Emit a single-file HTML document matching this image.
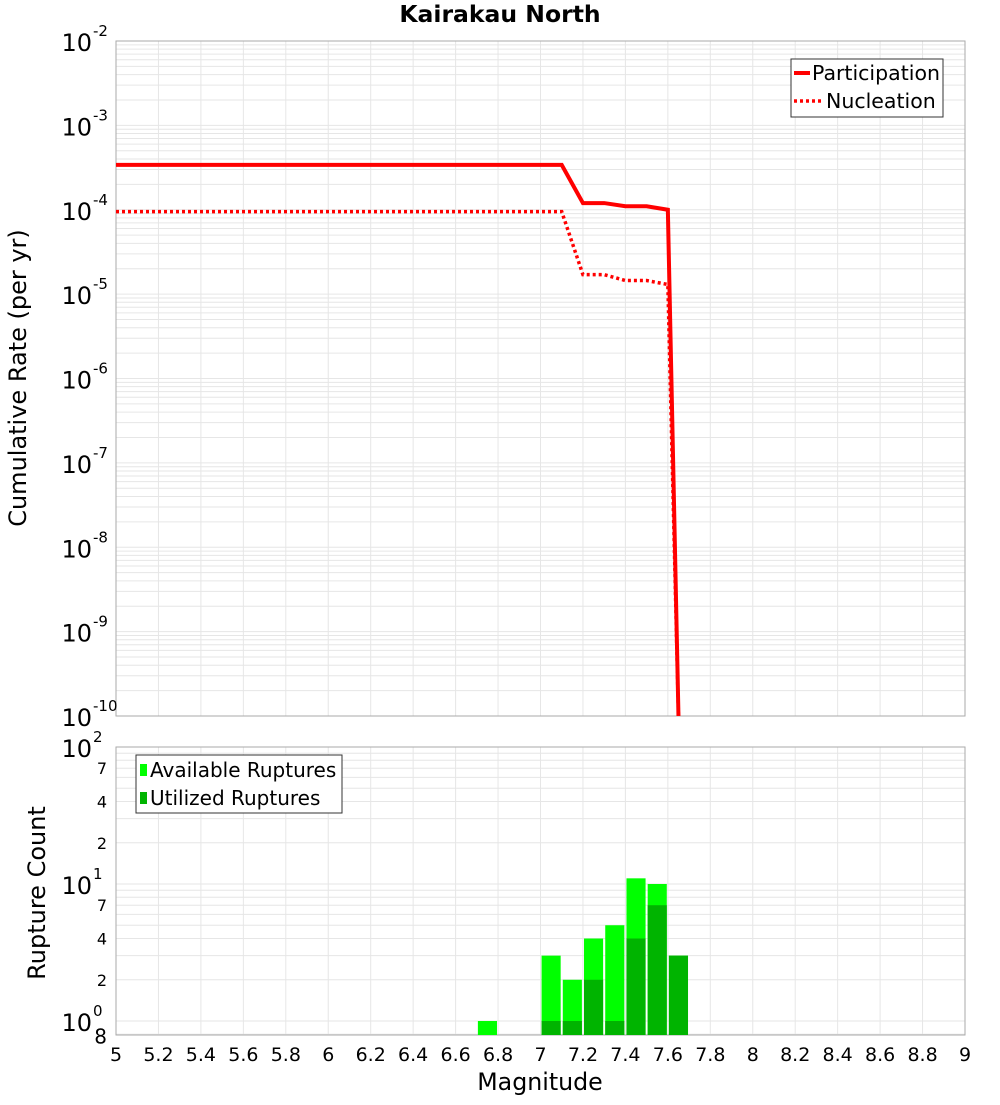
<!DOCTYPE html>
<html><head><meta charset="utf-8"><style>
body{margin:0;background:#fff;font-family:"Liberation Sans","DejaVu Sans",sans-serif}
svg text{font-family:"DejaVu Sans","Liberation Sans",sans-serif}
</style></head><body>
<svg id="c" width="1000" height="1100" xmlns="http://www.w3.org/2000/svg"></svg>
<script>
const magX=[5,7.1,7.2,7.3,7.4,7.5,7.6,7.65];
const partY=[3.4e-4,3.4e-4,1.2e-4,1.2e-4,1.1e-4,1.1e-4,1.0e-4,1e-10];
const nuclX=[5,7.1,7.2,7.3,7.4,7.5,7.6,7.65];
const nuclY=[9.5e-5,9.5e-5,1.7e-5,1.7e-5,1.45e-5,1.45e-5,1.3e-5,1e-10];
const binMags=[6.75,7.05,7.15,7.25,7.35,7.45,7.55,7.65];
const availCounts=[1,3,2,4,5,11,10,3];
const usedCounts=[0,1,1,2,1,4,7,3];
const xTicks=[5,5.2,5.4,5.6,5.8,6,6.2,6.4,6.6,6.8,7,7.2,7.4,7.6,7.8,8,8.2,8.4,8.6,8.8,9];
const topDecades=[-2,-3,-4,-5,-6,-7,-8,-9,-10];
const botTicks=[[100,'10','2'],[70,'7'],[40,'4'],[20,'2'],[10,'10','1'],[7,'7'],[4,'4'],[2,'2'],[1,'10','0'],[0.8,'8']];

const NS='http://www.w3.org/2000/svg',svg=document.getElementById('c');
function el(t,a,p){const e=document.createElementNS(NS,t);for(const k in a)e.setAttribute(k,a[k]);(p||svg).appendChild(e);return e;}
const L=116,R=965,T1=41,B1=716,T2=747,B2=1035;
const X=m=>L+(m-5)/4*(R-L);
const Y1=v=>T1+(-2-Math.log10(v))/8*(B1-T1);
const Y2=v=>T2+(2-Math.log10(v))*137;

let t=el('text',{x:500,y:22,'text-anchor':'middle','font-size':23.5,'font-weight':'bold'});t.textContent='Kairakau North';


const g=el('g',{stroke:'#e6e6e6','stroke-width':1});

for(const m of xTicks){el('line',{x1:X(m),x2:X(m),y1:T1,y2:B1},g);el('line',{x1:X(m),x2:X(m),y1:T2,y2:B2},g);}
for(let d=-10;d<-2;d++)for(let k=1;k<10;k++){const y=Y1(k*Math.pow(10,d));el('line',{x1:L,x2:R,y1:y,y2:y},g);}
for(const d of [0,1])for(let k=1;k<10;k++){const y=Y2(k*Math.pow(10,d));if(y<=B2)el('line',{x1:L,x2:R,y1:y,y2:y},g);}
el('line',{x1:L,x2:R,y1:Y2(0.8),y2:Y2(0.8)},g);

el('rect',{x:L,y:T1,width:R-L,height:B1-T1,fill:'none',stroke:'#aaa'});
el('rect',{x:L,y:T2,width:R-L,height:B2-T2,fill:'none',stroke:'#aaa'});

for(const d of topDecades){const y=Y1(Math.pow(10,d));
 const tx=el('text',{x:92,y:y+10,'text-anchor':'end','font-size':24});tx.textContent='10';
 
 const s=el('text',{x:93,y:y-5,'font-size':15});s.textContent=String(d);}
t=el('text',{x:0,y:0,'font-size':24,'text-anchor':'middle',transform:'translate(26,378) rotate(-90)'});t.textContent='Cumulative Rate (per yr)';


const clipY=v=>Math.min(Y1(v),B1);
let pd=magX.map((m,i)=>(i?'L':'M')+X(m)+','+clipY(partY[i])).join('');
const p1=el('path',{d:pd,fill:'none',stroke:'#f00','stroke-width':4});

pd=nuclX.map((m,i)=>(i?'L':'M')+X(m)+','+clipY(nuclY[i])).join('');
const p2=el('path',{d:pd,fill:'none',stroke:'#f00','stroke-width':3.5,'stroke-dasharray':'3,3'});


const lg=el('g',{});
el('rect',{x:791,y:59,width:152,height:58,fill:'#fff',stroke:'#333'},lg);
el('line',{x1:794,x2:810,y1:73,y2:73,stroke:'#f00','stroke-width':4},lg);
t=el('text',{x:812,y:80,'font-size':20.5},lg);t.textContent='Participation';
el('line',{x1:794,x2:822,y1:101,y2:101,stroke:'#f00','stroke-width':3.5,'stroke-dasharray':'3,3'},lg);
t=el('text',{x:826,y:108,'font-size':20.5},lg);t.textContent='Nucleation';

const bw=(R-L)/40*0.9;
binMags.forEach((m,i)=>{
 const r=el('rect',{x:X(m)-bw/2,y:Y2(availCounts[i]),width:bw,height:B2-Y2(availCounts[i]),fill:'#00ff00'});
 
 if(usedCounts[i]>0){const u=el('rect',{x:X(m)-bw/2,y:Y2(usedCounts[i]),width:bw,height:B2-Y2(usedCounts[i]),fill:'#00b400'});
 }
});

for(const tk of botTicks){const y=Y2(tk[0]);
 if(tk.length===3){const a=el('text',{x:92,y:y+10,'text-anchor':'end','font-size':24});a.textContent=tk[1];
 
 const s=el('text',{x:93,y:y-5,'font-size':15});s.textContent=tk[2];}
 else{const a=el('text',{x:107,y:y+6,'text-anchor':'end','font-size':16});a.textContent=tk[1];
 if(tk[0]===0.8){a.setAttribute('x',107);a.setAttribute('y',y+9);a.setAttribute('font-size',20);}
 }}
t=el('text',{x:0,y:0,'font-size':24,'text-anchor':'middle',transform:'translate(45,893) rotate(-90)'});t.textContent='Rupture Count';


for(const m of xTicks){const a=el('text',{x:X(m),y:1061,'text-anchor':'middle','font-size':19});a.textContent=String(m);
 }
t=el('text',{x:540,y:1090,'text-anchor':'middle','font-size':23.7});t.textContent='Magnitude';


const lg2=el('g',{});
el('rect',{x:136,y:755,width:206,height:58,fill:'#fff',stroke:'#333'},lg2);
el('rect',{x:140,y:764,width:7,height:12,fill:'#00ff00'},lg2);
t=el('text',{x:150,y:777,'font-size':20},lg2);t.textContent='Available Ruptures';
el('rect',{x:140,y:792,width:7,height:12,fill:'#00b400'},lg2);
t=el('text',{x:150,y:805,'font-size':20},lg2);t.textContent='Utilized Ruptures';
</script>
</body></html>
